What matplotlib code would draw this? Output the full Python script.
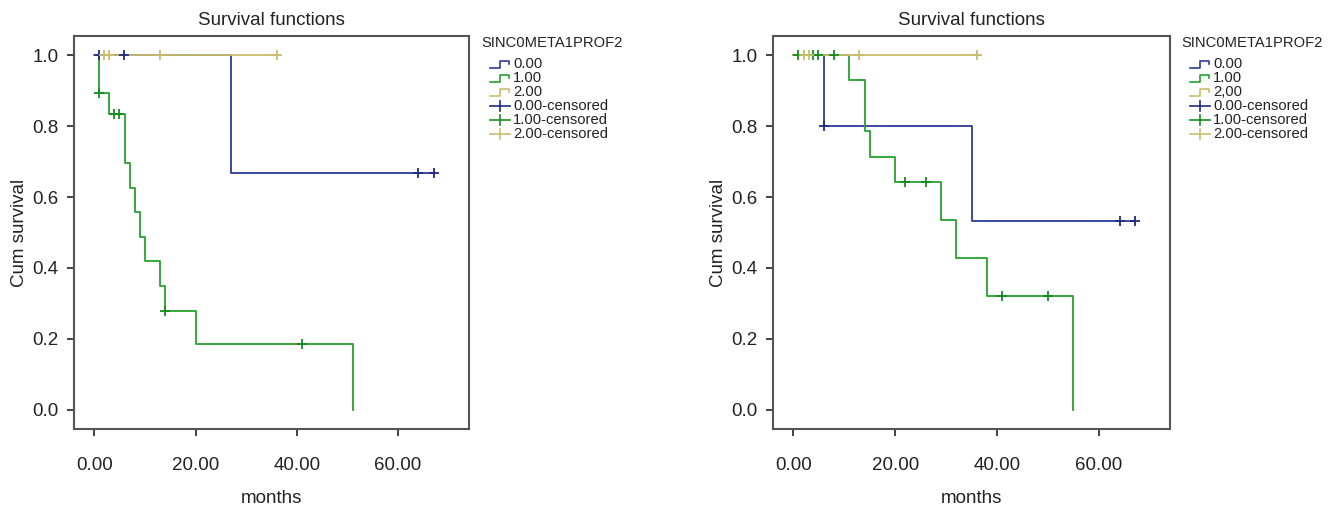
import matplotlib
matplotlib.use("Agg")
import matplotlib.pyplot as plt
from matplotlib.lines import Line2D

plt.rcParams["font.family"] = ["Liberation Sans", "DejaVu Sans"]

W, H = 1341, 509

# group 0.00 / 1.00 / 2.00, step curves (time, cumulative survival)
left_blue_t = [0, 27.0, 67.0]
left_blue_s = [1.0, 0.667, 0.667]
left_blue_cens_t = [1.0, 5.9, 64.0, 67.0]
left_blue_cens_s = [1.0, 1.0, 0.667, 0.667]

left_green_t = [0, 1.0, 3.0, 6.0, 7.0, 8.0, 9.0, 10.0, 13.0, 14.0, 20.0, 51.0]
left_green_s = [1.0, 0.893, 0.835, 0.697, 0.626, 0.557, 0.488, 0.419, 0.348, 0.279, 0.187, 0.0]
left_green_cens_t = [1.0, 3.9, 4.9, 14.0, 41.0]
left_green_cens_s = [0.893, 0.835, 0.835, 0.279, 0.187]

left_yellow_t = [0, 36.1]
left_yellow_s = [1.0, 1.0]
left_yellow_cens_t = [2.0, 3.0, 12.9, 36.1]
left_yellow_cens_s = [1.0, 1.0, 1.0, 1.0]

right_blue_t = [0, 6.0, 35.0, 67.0]
right_blue_s = [1.0, 0.8, 0.533, 0.533]
right_blue_cens_t = [6.0, 64.1, 67.1]
right_blue_cens_s = [0.8, 0.533, 0.533]

right_green_t = [0, 11.0, 14.0, 15.0, 20.0, 29.0, 32.0, 38.0, 55.0]
right_green_s = [1.0, 0.929, 0.786, 0.714, 0.643, 0.536, 0.429, 0.321, 0.0]
right_green_cens_t = [1.0, 3.9, 4.9, 7.9, 22.0, 26.0, 41.0, 50.1]
right_green_cens_s = [1.0, 1.0, 1.0, 1.0, 0.643, 0.643, 0.321, 0.321]

right_yellow_t = [0, 36.1]
right_yellow_s = [1.0, 1.0]
right_yellow_cens_t = [2.0, 3.0, 12.9, 36.1]
right_yellow_cens_s = [1.0, 1.0, 1.0, 1.0]

x_ticks = [0, 20, 40, 60]
x_ticklabels = ["0.00", "20.00", "40.00", "60.00"]
y_ticks = [0.0, 0.2, 0.4, 0.6, 0.8, 1.0]
y_ticklabels = ["0.0", "0.2", "0.4", "0.6", "0.8", "1.0"]

legend_title = "SINC0META1PROF2"
left_legend_labels = ["0.00", "1.00", "2.00", "0.00-censored", "1.00-censored", "2.00-censored"]
right_legend_labels = ["0.00", "1.00", "2,00", "0.00-censored", "1.00-censored", "2.00-censored"]

BLUE = "#2e3b9c"
GREEN = "#25a22e"
YELLOW = "#c9bc6c"
BLUE_C = "#1f2a85"
GREEN_C = "#188a22"
YELLOW_C = "#c9bc6c"


def fx(px):
    return px / W


def fy(py):
    return 1 - py / H


def draw_panel(ax, curves):
    for t, s, cens_t, cens_s, col, ccol in curves:
        ax.step(t, s, where="post", color=col, lw=1.3, zorder=2)
    for t, s, cens_t, cens_s, col, ccol in curves:
        ax.plot(cens_t, cens_s, ls="none", marker="+", ms=6.5, mew=1.3,
                color=ccol, zorder=3)
    ax.set_xlim(-4, 74)
    ax.set_ylim(-0.054, 1.054)
    ax.set_xticks(x_ticks)
    ax.set_xticklabels(x_ticklabels)
    ax.set_yticks(y_ticks)
    ax.set_yticklabels(y_ticklabels)
    ax.tick_params(axis="x", length=5, width=1.2, pad=15, labelsize=13.5,
                   colors="#222222")
    ax.tick_params(axis="y", length=5, width=1.2, pad=6, labelsize=13.5,
                   colors="#222222")
    for sp in ax.spines.values():
        sp.set_color("#555555")
        sp.set_linewidth(1.5)
    ax.set_title("Survival functions", fontsize=13.5, pad=8, color="#222222")
    ax.set_xlabel("months", fontsize=13.5, labelpad=12, color="#222222")
    ax.set_ylabel("Cum survival", fontsize=13.5, labelpad=3, color="#222222")


def draw_legend(fig, x0, labels):
    # x0: left pixel of the legend title
    fig.text(fx(x0), fy(43), legend_title, fontsize=10.6, va="center",
             ha="left", color="#222222")
    hx = x0 + 9
    line_cols = [BLUE, GREEN, YELLOW]
    cens_cols = [BLUE_C, GREEN_C, YELLOW_C]
    for i, lab in enumerate(labels):
        y = 64 + 14 * i
        if i < 3:
            xs = [hx, hx + 10, hx + 10, hx + 19, hx + 19]
            ys = [y + 4, y + 4, y - 3, y - 3, y]
            fig.add_artist(Line2D([fx(v) for v in xs], [fy(v) for v in ys],
                                  color=line_cols[i], lw=1.2,
                                  transform=fig.transFigure))
        else:
            c = cens_cols[i - 3]
            fig.add_artist(Line2D([fx(hx), fx(hx + 20)], [fy(y), fy(y)],
                                  color=c, lw=1.2, transform=fig.transFigure))
            fig.add_artist(Line2D([fx(hx + 10), fx(hx + 10)], [fy(y - 5), fy(y + 5)],
                                  color=c, lw=1.2, transform=fig.transFigure))
        fig.text(fx(hx + 23), fy(y), lab, fontsize=10.6, va="center",
                 ha="left", color="#222222")


fig = plt.figure(figsize=(W / 100, H / 100), dpi=100)
ax1 = fig.add_axes([fx(74), fy(429), fx(469) - fx(74), fy(36) - fy(429)])
ax2 = fig.add_axes([fx(773), fy(429), fx(1170) - fx(773), fy(36) - fy(429)])

draw_panel(ax1, [
    (left_blue_t, left_blue_s, left_blue_cens_t, left_blue_cens_s, BLUE, BLUE_C),
    (left_green_t, left_green_s, left_green_cens_t, left_green_cens_s, GREEN, GREEN_C),
    (left_yellow_t, left_yellow_s, left_yellow_cens_t, left_yellow_cens_s, YELLOW, YELLOW_C),
])
draw_panel(ax2, [
    (right_blue_t, right_blue_s, right_blue_cens_t, right_blue_cens_s, BLUE, BLUE_C),
    (right_green_t, right_green_s, right_green_cens_t, right_green_cens_s, GREEN, GREEN_C),
    (right_yellow_t, right_yellow_s, right_yellow_cens_t, right_yellow_cens_s, YELLOW, YELLOW_C),
])

draw_legend(fig, 481, left_legend_labels)
draw_legend(fig, 1181, right_legend_labels)

fig.savefig("out.png", dpi=100)
